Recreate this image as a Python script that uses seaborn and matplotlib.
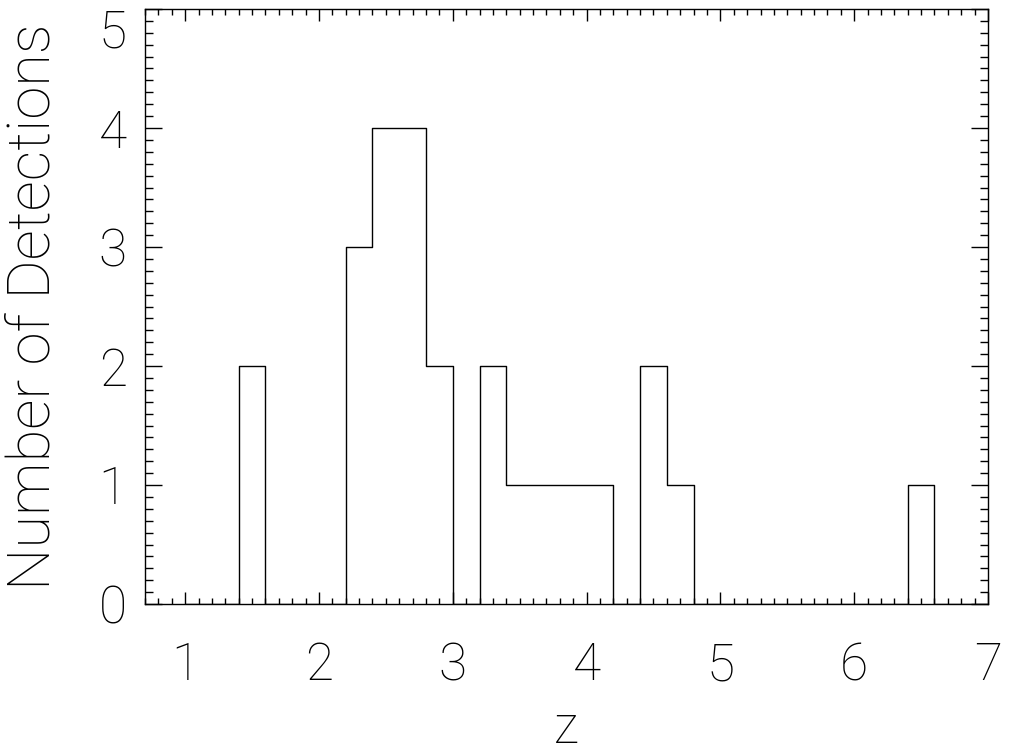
import matplotlib

matplotlib.use("Agg")
import matplotlib.pyplot as plt
import numpy as np
import pandas as pd
import seaborn as sns
from matplotlib.ticker import MultipleLocator

# histogram of detections per redshift bin (bin width 0.2, starting at z = 1.0)
BIN_START = 1.0
BIN_WIDTH = 0.2
COUNTS = [0, 0, 2, 0, 0, 0, 3, 4, 4, 2, 0, 2, 1, 1, 1, 1, 0, 2, 1,
          0, 0, 0, 0, 0, 0, 0, 0, 1, 0, 0]

X_LABEL = "z"
Y_LABEL = "Number of Detections"
X_LIM = (0.7, 7.0)
Y_LIM = (0, 5)

sns.set_theme(style="ticks")
plt.rcParams["font.family"] = ["Roboto", "DejaVu Sans"]
plt.rcParams["font.weight"] = 100
plt.rcParams["axes.labelweight"] = 100

edges = np.round(BIN_START + BIN_WIDTH * np.arange(len(COUNTS) + 1), 2)
hist_df = pd.DataFrame({
    "z": (edges[:-1] + edges[1:]) / 2,
    "n": np.asarray(COUNTS, dtype=float),
})

fig = plt.figure(figsize=(10.09, 7.53), dpi=100)
ax = fig.add_axes([145 / 1009, 149 / 753, 843 / 1009, 595 / 753])

sns.histplot(
    data=hist_df,
    x="z",
    weights="n",
    bins=edges.tolist(),
    element="step",
    fill=False,
    color="black",
    linewidth=1.0,
    ax=ax,
)

ax.set_xlim(*X_LIM)
ax.set_ylim(*Y_LIM)
ax.xaxis.set_major_locator(MultipleLocator(1))
ax.xaxis.set_minor_locator(MultipleLocator(0.1))
ax.yaxis.set_major_locator(MultipleLocator(1))
ax.yaxis.set_minor_locator(MultipleLocator(0.1))

ax.tick_params(axis="both", which="both", direction="in", top=True, right=True,
               color="black", width=1.0, labelsize=37, labelcolor="black")
ax.tick_params(axis="x", which="major", length=8.6, pad=27)
ax.tick_params(axis="x", which="minor", length=4.3)
ax.tick_params(axis="y", which="major", length=12, pad=13)
ax.tick_params(axis="y", which="minor", length=6)

# keep the top label inside the figure, as in the original
for lbl in ax.get_yticklabels():
    if abs(lbl.get_position()[1] - Y_LIM[1]) < 1e-9:
        lbl.set_verticalalignment("top")

for spine in ax.spines.values():
    spine.set_visible(True)
    spine.set_color("black")
    spine.set_linewidth(1.0)

ax.set_xlabel(X_LABEL, fontsize=37, fontweight=100, color="black")
ax.set_ylabel(Y_LABEL, fontsize=43, fontweight=100, color="black")
ax.xaxis.label.set_verticalalignment("baseline")
ax.yaxis.label.set_verticalalignment("baseline")
ax.xaxis.set_label_coords(0.5, -0.2336)
ax.yaxis.set_label_coords(-0.1127, 0.5)
ax.grid(False)

fig.savefig("out.png", dpi=100, facecolor="white")
